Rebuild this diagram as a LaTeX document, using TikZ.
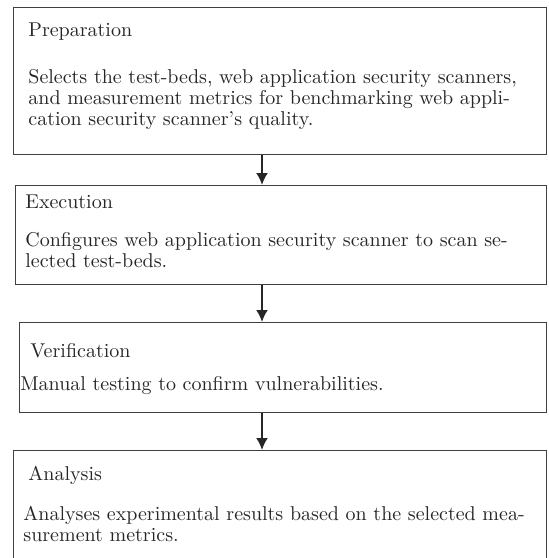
\documentclass[tikz,border=0pt]{standalone}
\usepackage{amsmath}
\usepackage{tikz}
\usetikzlibrary{arrows.meta}
\newcommand{\JL}[1]{\makebox[\linewidth][s]{#1}}

\tikzset{
  stage/.style={draw=black!75, line width=0.7pt, rectangle, anchor=north west, inner sep=0pt},
  stagetitle/.style={anchor=base west, inner sep=0pt, text=black!85},
  stagetext/.style={anchor=base west, inner sep=0pt, text=black!85, align=left,
    font=\fontsize{10}{10.5}\selectfont},
  flow/.style={-{Latex[length=6pt,width=6pt]}, line width=1pt, black!85}
}

\begin{document}
\begin{tikzpicture}[x=0.5pt, y=-0.5pt]

  \clip (0,0) rectangle (548,558);

  \coordinate (axis) at (262,0);

  \node[stage, minimum width=266.5pt, minimum height=73.5pt] (prep) at (13,7) {};
  \node[stagetitle] (prepTitle) at (28,36) {Preparation};
  \node[stagetext, text width=237.5pt] (prepText) at (28,83)
    {\JL{Selects the test-beds, web application security scanners,}\\
     \JL{and measurement metrics for benchmarking web appli-}\\
     cation security scanner's quality.};

  \node[stage, minimum width=265.5pt, minimum height=49.5pt] (exec) at (15,185) {};
  \node[stagetitle] (execTitle) at (25,208) {Execution};
  \node[stagetext, text width=240.5pt] (execText) at (25,246)
    {\JL{Configures web application security scanner to scan se-}\\
     lected test-beds.};

  \node[stage, minimum width=263.5pt, minimum height=45pt] (verif) at (19,322) {};
  \node[stagetitle] (verifTitle) at (30,357) {Verification};
  \node[stagetext, text width=240pt] (verifText) at (20,390)
    {Manual testing to confirm vulnerabilities.};

  \node[stage, minimum width=266.5pt, minimum height=65pt] (anal) at (13,450) {};
  \node[stagetitle] (analTitle) at (28,480) {Analysis};
  \node[stagetext, text width=240pt] (analText) at (23,520)
    {\JL{Analyses experimental results based on the selected mea-}\\
     surement metrics.};

  \draw[flow] (prep.south -| axis) -- (exec.north -| axis);
  \draw[flow] (exec.south -| axis) -- (verif.north -| axis);
  \draw[flow] (verif.south -| axis) -- (anal.north -| axis);

\end{tikzpicture}
\end{document}
